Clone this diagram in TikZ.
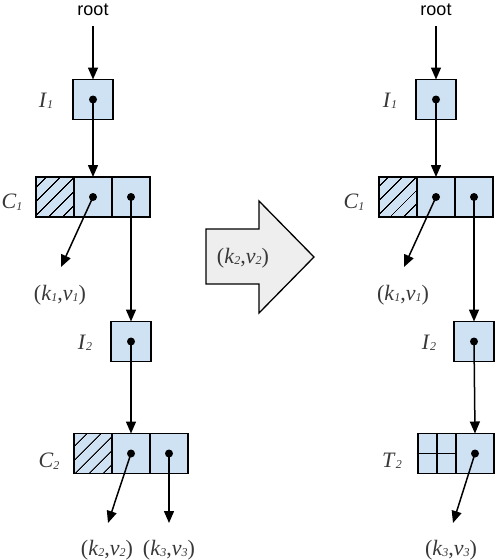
\documentclass[tikz,border=0pt]{standalone}
\usepackage{fontspec}
\setmainfont{Liberation Serif}
\newfontfamily\rootfont{Liberation Sans}
\usetikzlibrary{positioning,arrows.meta,patterns.meta}
\definecolor{cellblue}{HTML}{CFE2F3}
\definecolor{bigarrowgrey}{HTML}{EEEEEE}
\definecolor{tagtext}{HTML}{383838}
\newcommand{\nm}[2]{\textit{#1}\raisebox{-1.5pt}{\fontsize{12}{12}\selectfont\textit{#2}}}
\newcommand{\kv}[1]{(\nm{k}{#1},\nm{v}{#1})}
\tikzset{
  cell/.style={draw, line width=1.4pt, fill=cellblue, minimum width=38pt,
    minimum height=40pt, inner sep=0pt, outer sep=0pt},
  hatched/.style={postaction={pattern={Lines[angle=45,distance=10.5pt,line width=1.3pt]}}},
  dot/.style={circle, fill=black, minimum size=8pt, inner sep=0pt},
  ptr/.style={-{Triangle[length=12pt,width=10pt]}, line width=1.5pt},
  tag/.style={font=\fontsize{22}{24}\selectfont, text=tagtext},
  rootlbl/.style={font=\rootfont\fontsize{18}{20}\selectfont},
}
\begin{document}
\begin{tikzpicture}[x=1pt,y=-1pt]
  \useasboundingbox (0,0) rectangle (496,560);

  % before
  \node[rootlbl] (rootl) at (93,10) {root};
  \node[cell, minimum width=40pt] (i1l) at (93,99.5) {};
  \node[cell, hatched] (c1la) at (55,197) {};
  \node[cell, right=0pt of c1la] (c1lb) {};
  \node[cell, right=0pt of c1lb] (c1lc) {};
  \node[cell, minimum width=40pt] (i2l) at (131,341.5) {};
  \node[cell, hatched] (c2la) at (93,453.5) {};
  \node[cell, right=0pt of c2la] (c2lb) {};
  \node[cell, right=0pt of c2lb] (c2lc) {};
  \node[dot] (i1ld) at (i1l) {};
  \node[dot] (c1lbd) at (c1lb) {};
  \node[dot] (c1lcd) at (c1lc) {};
  \node[dot] (i2ld) at (i2l) {};
  \node[dot] (c2lbd) at (c2lb) {};
  \node[dot] (c2lcd) at (c2lc) {};
  \node[tag] (i1ltag) at (46,101) {\nm{I}{1}};
  \node[tag] (c1ltag) at (12,202) {\nm{C}{1}};
  \node[tag] (i2ltag) at (85,343) {\nm{I}{2}};
  \node[tag] (c2ltag) at (49,461) {\nm{C}{2}};
  \coordinate (kv1lend) at (61,267);
  \coordinate (kv2lend) at (108,523);
  \coordinate (kv3lend) at (169,523);
  \node[tag] (kv1l) at (60,295) {\kv{1}};
  \node[tag] (kv2l) at (107,550) {\kv{2}};
  \node[tag] (kv3l) at (169,550) {\kv{3}};
  \draw[ptr, shorten <=7pt] (rootl) -- (i1l.north);
  \draw[ptr] (i1ld.center) -- (c1lb.north);
  \draw[ptr] (c1lbd.center) -- (kv1lend);
  \draw[ptr] (c1lcd.center) -- (i2l.north);
  \draw[ptr] (i2ld.center) -- (c2lb.north);
  \draw[ptr] (c2lbd.center) -- (kv2lend);
  \draw[ptr] (c2lcd.center) -- (kv3lend);

  % insert
  \draw[line width=1.3pt, fill=bigarrowgrey] (206,229) -- (259,229) -- (259,201)
    -- (314,257) -- (259,313) -- (259,284) -- (206,284) -- cycle;
  \node[tag] (ins) at (243,258) {\kv{2}};

  % after
  \node[rootlbl] (rootr) at (436,10) {root};
  \node[cell, minimum width=40pt] (i1r) at (436,99.5) {};
  \node[cell, hatched] (c1ra) at (398,197) {};
  \node[cell, right=0pt of c1ra] (c1rb) {};
  \node[cell, right=0pt of c1rb] (c1rc) {};
  \node[cell, minimum width=40pt] (i2r) at (474,341.5) {};
  \node[cell] (t2ra) at (437,453.5) {};
  \node[cell, right=0pt of t2ra] (t2rb) {};
  \draw[line width=1.4pt] (t2ra.north) -- (t2ra.south) (t2ra.west) -- (t2ra.east);
  \node[dot] (i1rd) at (i1r) {};
  \node[dot] (c1rbd) at (c1rb) {};
  \node[dot] (c1rcd) at (c1rc) {};
  \node[dot] (i2rd) at (i2r) {};
  \node[dot] (t2rbd) at (t2rb) {};
  \node[tag] (i1rtag) at (390,101) {\nm{I}{1}};
  \node[tag] (c1rtag) at (354,202) {\nm{C}{1}};
  \node[tag] (i2rtag) at (429,343) {\nm{I}{2}};
  \node[tag] (t2rtag) at (392,461) {\nm{T}{2}};
  \coordinate (kv1rend) at (404,267);
  \coordinate (kv3rend) at (453,523);
  \node[tag] (kv1r) at (403,295) {\kv{1}};
  \node[tag] (kv3r) at (451,550) {\kv{3}};
  \draw[ptr, shorten <=7pt] (rootr) -- (i1r.north);
  \draw[ptr] (i1rd.center) -- (c1rb.north);
  \draw[ptr] (c1rbd.center) -- (kv1rend);
  \draw[ptr] (c1rcd.center) -- (i2r.north);
  \draw[ptr] (i2rd.center) -- (t2rb.north);
  \draw[ptr] (t2rbd.center) -- (kv3rend);
\end{tikzpicture}
\end{document}
